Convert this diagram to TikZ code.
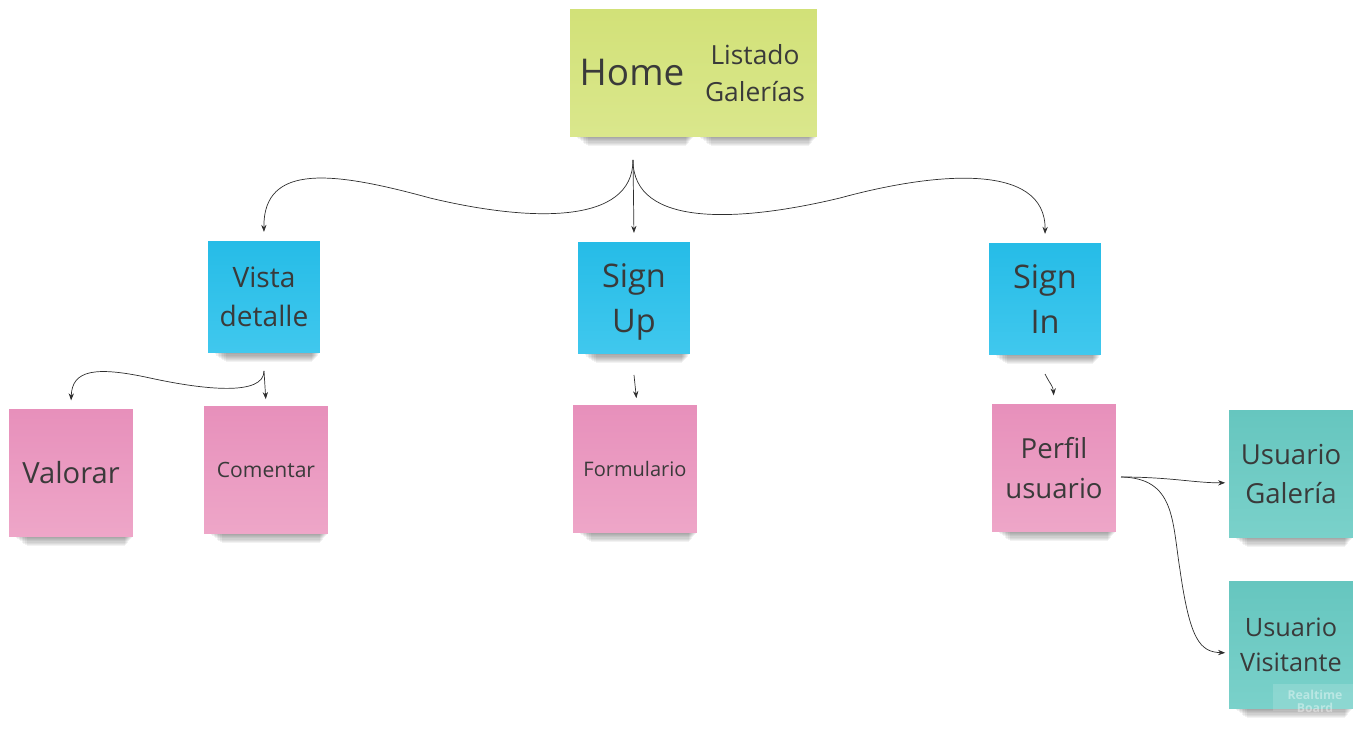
\documentclass[tikz,border=0pt]{standalone}
\usepackage{fontspec}
\setmainfont{Open Sans}
\usetikzlibrary{arrows.meta,backgrounds}

\definecolor{notegreenA}{HTML}{D2E178}
\definecolor{notegreenB}{HTML}{DAE78C}
\definecolor{noteblueA}{HTML}{26BCE7}
\definecolor{noteblueB}{HTML}{40C8EE}
\definecolor{notepinkA}{HTML}{E790BB}
\definecolor{notepinkB}{HTML}{EEA6C8}
\definecolor{noteteaA}{HTML}{66C6BF}
\definecolor{noteteaB}{HTML}{7AD1CA}
\definecolor{inkgray}{HTML}{3A3A3A}
\definecolor{wiregray}{HTML}{2E2E2E}

\tikzset{
  sticky/.style={draw=none, align=center, text=inkgray, inner sep=1pt},
  bignote/.style={sticky, minimum width=2.48cm, minimum height=2.54cm},
  smallnote/.style={sticky, minimum width=2.24cm, minimum height=2.24cm},
  greennote/.style={bignote, top color=notegreenA, bottom color=notegreenB},
  bluenote/.style={smallnote, top color=noteblueA, bottom color=noteblueB},
  pinknote/.style={bignote, top color=notepinkA, bottom color=notepinkB},
  tealnote/.style={bignote, top color=noteteaA, bottom color=noteteaB},
  fsize/.style args={#1/#2}{font=\fontsize{#1}{#2}\selectfont},
  link/.style={draw=wiregray, line width=0.4pt, -{Stealth[length=4pt,width=3pt]}, shorten >=2pt}
}

\begin{document}
\begin{tikzpicture}[x=0.02cm, y=-0.02cm]
    \useasboundingbox (0,0) rectangle (1370,729);

    \node[greennote, fsize=21/28] (home) at (632,73) {Home};
    \node[greennote, fsize=15/21] (listado) at (755,73) {Listado\\Galerías};

    \node[bluenote, fsize=16/22] (vista) at (264,297) {Vista\\detalle};
    \node[bluenote, fsize=18.5/26] (signup) at (634,298) {Sign\\\smash{Up}};
    \node[bluenote, fsize=18.5/26] (signin) at (1045,299) {Sign\\In};

    \node[pinknote, fsize=16.6/22] (valorar) at (71,473) {Valorar};
    \node[pinknote, fsize=12/16] (comentar) at (266,470) {Comentar};
    \node[pinknote, fsize=11.4/15] (formulario) at (635,469) {Formulario};
    \node[pinknote, fsize=15.7/22.5] (perfil) at (1054,468) {Perfil\\usuario};

    \node[tealnote, fsize=15.7/22.5] (galeria) at (1291,474) {Usuario\\Galería};
    \node[tealnote, fsize=14.4/20] (visitante) at (1291,645) {Usuario\\Visitante};

    % watermark corner
    \fill[white, opacity=0.15] (1273,684) rectangle (1356,711);
    \node[text=white, opacity=0.4, font=\bfseries\fontsize{7}{7.5}\selectfont, align=center] (mark) at (1315,701) {Realtime\\Board};

    % shadows under the notes
    \begin{pgfonlayer}{background}
    \foreach \n in {home,listado,vista,signup,signin,valorar,comentar,formulario,perfil,galeria,visitante} {
        \foreach \d in {1,...,8}
            \fill[black, opacity=0.05]
                ([xshift={3pt+\d*0.9pt}, yshift=1pt]\n.south west) rectangle
                ([xshift={-0.5pt-\d*0.5pt}, yshift={-\d*0.65pt}]\n.south east);
    }
    \end{pgfonlayer}

    \coordinate (hub) at (633,160);
    \coordinate (vd) at (264,371);
    \coordinate (su) at (634,375);
    \coordinate (si) at (1045,374);
    \coordinate (pu) at (1121,477);

    \draw[link] (hub) .. controls (633,225) and (530,222) .. (430,198)
        .. controls (335,172) and (263,162) .. ([yshift=3pt]vista.north);
    \draw[link] (hub) -- ([yshift=3pt]signup.north);
    \draw[link] (hub) .. controls (633,228) and (740,222) .. (840,198)
        .. controls (935,172) and (1046,162) .. ([yshift=3pt]signin.north);

    \draw[link] (vd) .. controls (264,396) and (205,390) .. (150,378)
        .. controls (95,366) and (72,370) .. ([yshift=3pt]valorar.north);
    \draw[link] (vd) -- ([yshift=2pt]comentar.north);
    \draw[link] (su) -- ([xshift=1pt, yshift=2pt]formulario.north);
    \draw[link] (si) .. controls (1050,384) and (1053,386) .. ([yshift=3pt]perfil.north);

    \draw[link] (pu) .. controls (1170,477) and (1195,483) .. ([yshift=-5pt]galeria.west);
    \draw[link] (pu) .. controls (1175,478) and (1172,520) .. (1180,570)
        .. controls (1190,640) and (1200,652) .. ([yshift=-4.5pt]visitante.west);
\end{tikzpicture}
\end{document}
